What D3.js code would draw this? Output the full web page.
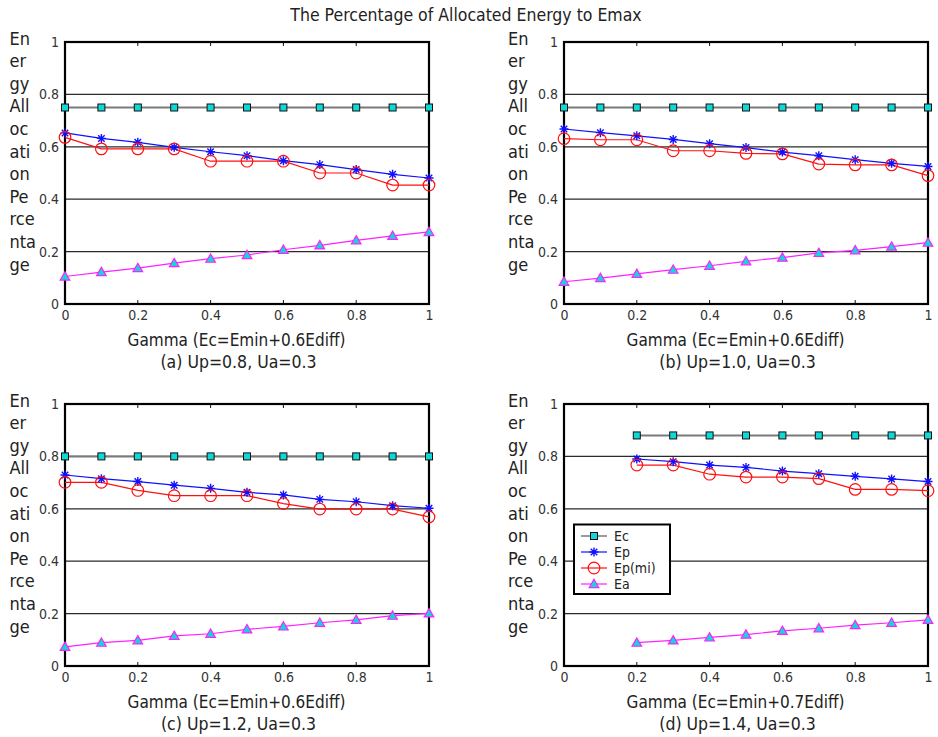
<!DOCTYPE html>
<html>
<head>
<meta charset="utf-8">
<script src="https://cdn.jsdelivr.net/npm/d3@7"></script>
<style>
  html, body { margin: 0; padding: 0; background: #fff; }
  svg { display: block; font-family: "DejaVu Sans Condensed", "DejaVu Sans", sans-serif; }
</style>
</head>
<body>
<svg id="chart" width="938" height="737"></svg>
<script>
// ---- data ----
const chartTitle = "The Percentage of Allocated Energy to Emax";
const gammaFull = [0, 0.1, 0.2, 0.3, 0.4, 0.5, 0.6, 0.7, 0.8, 0.9, 1.0];
const gammaFrom02 = [0.2, 0.3, 0.4, 0.5, 0.6, 0.7, 0.8, 0.9, 1.0];
const yTicks = [0, 0.2, 0.4, 0.6, 0.8, 1];
const xTicks = [0, 0.2, 0.4, 0.6, 0.8, 1];
const seriesNames = ["Ec", "Ep", "Ep(mi)", "Ea"];
const yLabelPieces = ["En", "er", "gy", "All", "oc", "ati", "on", "Pe", "rce", "nta", "ge"];
const xLabels = ["Gamma (Ec=Emin+0.6Ediff)", "Gamma (Ec=Emin+0.6Ediff)",
                 "Gamma (Ec=Emin+0.6Ediff)", "Gamma (Ec=Emin+0.7Ediff)"];
const captions = ["(a) Up=0.8, Ua=0.3", "(b) Up=1.0, Ua=0.3",
                  "(c) Up=1.2, Ua=0.3", "(d) Up=1.4, Ua=0.3"];

// (a) Up=0.8
const ecA   = [0.75, 0.75, 0.75, 0.75, 0.75, 0.75, 0.75, 0.75, 0.75, 0.75, 0.75];
const epA   = [0.653, 0.632, 0.617, 0.598, 0.581, 0.566, 0.547, 0.532, 0.513, 0.495, 0.481];
const epmiA = [0.636, 0.592, 0.592, 0.592, 0.545, 0.545, 0.545, 0.500, 0.500, 0.454, 0.454];
const eaA   = [0.105, 0.122, 0.137, 0.156, 0.173, 0.187, 0.207, 0.224, 0.243, 0.260, 0.275];
// (b) Up=1.0
const ecB   = [0.75, 0.75, 0.75, 0.75, 0.75, 0.75, 0.75, 0.75, 0.75, 0.75, 0.75];
const epB   = [0.668, 0.654, 0.642, 0.628, 0.612, 0.597, 0.580, 0.566, 0.551, 0.537, 0.525];
const epmiB = [0.631, 0.627, 0.627, 0.585, 0.585, 0.575, 0.573, 0.534, 0.531, 0.531, 0.490];
const eaB   = [0.085, 0.099, 0.115, 0.131, 0.146, 0.163, 0.177, 0.195, 0.205, 0.219, 0.234];
// (c) Up=1.2
const ecC   = [0.80, 0.80, 0.80, 0.80, 0.80, 0.80, 0.80, 0.80, 0.80, 0.80, 0.80];
const epC   = [0.729, 0.715, 0.704, 0.690, 0.678, 0.663, 0.653, 0.636, 0.627, 0.612, 0.602];
const epmiC = [0.701, 0.701, 0.670, 0.650, 0.650, 0.650, 0.620, 0.599, 0.599, 0.599, 0.569];
const eaC   = [0.073, 0.089, 0.098, 0.115, 0.123, 0.140, 0.151, 0.165, 0.176, 0.192, 0.201];
// (d) Up=1.4 (gamma from 0.2)
const ecD   = [0.88, 0.88, 0.88, 0.88, 0.88, 0.88, 0.88, 0.88, 0.88];
const epD   = [0.790, 0.780, 0.767, 0.758, 0.744, 0.734, 0.724, 0.714, 0.704];
const epmiD = [0.767, 0.767, 0.732, 0.721, 0.721, 0.715, 0.674, 0.674, 0.669];
const eaD   = [0.089, 0.098, 0.109, 0.120, 0.134, 0.144, 0.156, 0.165, 0.176];

// ---- panel layout ----
const panels = [
  { x: gammaFull,   series: [ecA, epA, epmiA, eaA], left: 65,  right: 429, top: 42,  bottom: 304, labelX: 9.5, legend: false },
  { x: gammaFull,   series: [ecB, epB, epmiB, eaB], left: 564, right: 928, top: 42,  bottom: 304, labelX: 508, legend: false },
  { x: gammaFull,   series: [ecC, epC, epmiC, eaC], left: 65,  right: 429, top: 404, bottom: 666, labelX: 9.5, legend: false },
  { x: gammaFrom02, series: [ecD, epD, epmiD, eaD], left: 564, right: 928, top: 404, bottom: 666, labelX: 508, legend: true }
];

const styles = [
  { line: "#7a7a7a", width: 2,   marker: "square" },
  { line: "#1010ff", width: 1.2, marker: "star" },
  { line: "#ff1010", width: 1.2, marker: "circle" },
  { line: "#ff20ff", width: 1.2, marker: "triangle" }
];
const CYAN = "#10d8d8";
const TEXT = "#222";

const svg = d3.select("#chart");

svg.append("text")
  .attr("x", 466).attr("y", 21)
  .attr("text-anchor", "middle")
  .attr("font-size", 17.5)
  .attr("fill", TEXT)
  .text(chartTitle);

function drawMarker(g, kind, cx, cy) {
  if (kind === "square") {
    g.append("rect").attr("x", cx - 3.5).attr("y", cy - 3.5)
      .attr("width", 7).attr("height", 7)
      .attr("fill", CYAN).attr("stroke", "#111").attr("stroke-width", 1);
  } else if (kind === "star") {
    const r = 4.5, d = r * 0.72;
    const p = d3.path();
    p.moveTo(cx - r, cy); p.lineTo(cx + r, cy);
    p.moveTo(cx, cy - r); p.lineTo(cx, cy + r);
    p.moveTo(cx - d, cy - d); p.lineTo(cx + d, cy + d);
    p.moveTo(cx - d, cy + d); p.lineTo(cx + d, cy - d);
    g.append("path").attr("d", p.toString())
      .attr("stroke", "#1010ff").attr("stroke-width", 1.4).attr("fill", "none");
  } else if (kind === "circle") {
    g.append("circle").attr("cx", cx).attr("cy", cy).attr("r", 5.8)
      .attr("fill", "none").attr("stroke", "#ff1010").attr("stroke-width", 1.2);
  } else if (kind === "triangle") {
    g.append("path")
      .attr("d", d3.symbol(d3.symbolTriangle, 40)())
      .attr("transform", `translate(${cx},${cy + 0.8})`)
      .attr("fill", CYAN).attr("stroke", "#ff20ff").attr("stroke-width", 1.2);
  }
}

panels.forEach((pn, i) => {
  const xScale = d3.scaleLinear().domain([0, 1]).range([pn.left, pn.right]);
  const yScale = d3.scaleLinear().domain([0, 1]).range([pn.bottom, pn.top]);
  const g = svg.append("g");

  // horizontal grid
  g.append("g").selectAll("line")
    .data(yTicks.filter(t => t > 0 && t < 1))
    .join("line")
    .attr("x1", pn.left).attr("x2", pn.right)
    .attr("y1", d => yScale(d)).attr("y2", d => yScale(d))
    .attr("stroke", "#2a2a2a").attr("stroke-width", 1.2);

  // y axis labels
  const yAxis = d3.axisLeft(yScale).tickValues(yTicks).tickFormat(d3.format("~g"))
    .tickSize(0).tickPadding(6);
  const ya = g.append("g").attr("transform", `translate(${pn.left},0)`).call(yAxis);
  ya.select(".domain").remove();
  ya.selectAll("text").attr("font-size", 14).attr("fill", "#333")
    .attr("font-family", "DejaVu Sans Condensed, DejaVu Sans, sans-serif");

  // x axis labels
  const xAxis = d3.axisBottom(xScale).tickValues(xTicks).tickFormat(d3.format("~g"))
    .tickSize(0).tickPadding(6);
  const xa = g.append("g").attr("transform", `translate(0,${pn.bottom})`).call(xAxis);
  xa.select(".domain").remove();
  xa.selectAll("text").attr("font-size", 14).attr("fill", "#333")
    .attr("font-family", "DejaVu Sans Condensed, DejaVu Sans, sans-serif");

  // small inward tick marks top and bottom
  xTicks.forEach(t => {
    g.append("line").attr("x1", xScale(t)).attr("x2", xScale(t))
      .attr("y1", pn.top).attr("y2", pn.top + 4).attr("stroke", "#111").attr("stroke-width", 1);
    g.append("line").attr("x1", xScale(t)).attr("x2", xScale(t))
      .attr("y1", pn.bottom).attr("y2", pn.bottom - 4).attr("stroke", "#111").attr("stroke-width", 1);
  });

  // frame
  g.append("rect")
    .attr("x", pn.left).attr("y", pn.top)
    .attr("width", pn.right - pn.left).attr("height", pn.bottom - pn.top)
    .attr("fill", "none").attr("stroke", "#000").attr("stroke-width", 2.2);

  // broken y label
  g.append("g").selectAll("text")
    .data(yLabelPieces)
    .join("text")
    .attr("x", pn.labelX)
    .attr("y", (d, k) => pn.top + 2.5 + k * 22.6)
    .attr("font-size", 18)
    .attr("fill", TEXT)
    .text(d => d);

  // x label & caption
  const cx = (pn.left + pn.right) / 2 - 10.5;
  g.append("text").attr("x", cx).attr("y", pn.bottom + 42)
    .attr("text-anchor", "middle").attr("font-size", 17).attr("fill", TEXT)
    .text(xLabels[i]);
  g.append("text").attr("x", cx + 2).attr("y", pn.bottom + 64)
    .attr("text-anchor", "middle").attr("font-size", 17.5).attr("fill", TEXT)
    .text(captions[i]);

  // series
  const line = d3.line().x(d => xScale(d[0])).y(d => yScale(d[1]));
  pn.series.forEach((vals, s) => {
    const pts = pn.x.map((gx, k) => [gx, vals[k]]);
    g.append("path").datum(pts).attr("d", line)
      .attr("fill", "none").attr("stroke", styles[s].line).attr("stroke-width", styles[s].width);
  });
  pn.series.forEach((vals, s) => {
    const mg = g.append("g");
    pn.x.forEach((gx, k) => drawMarker(mg, styles[s].marker, xScale(gx), yScale(vals[k])));
  });

  // legend
  if (pn.legend) {
    const lg = g.append("g");
    lg.append("rect").attr("x", 574).attr("y", 524.5).attr("width", 96).attr("height", 69.5)
      .attr("fill", "#fff").attr("stroke", "#000").attr("stroke-width", 2);
    seriesNames.forEach((name, s) => {
      const ly = 536 + s * 16;
      lg.append("line").attr("x1", 581).attr("x2", 607).attr("y1", ly).attr("y2", ly)
        .attr("stroke", styles[s].line).attr("stroke-width", styles[s].width === 2 ? 1.5 : 1.2);
      drawMarker(lg, styles[s].marker, 594, ly);
      lg.append("text").attr("x", 614).attr("y", ly + 5)
        .attr("font-size", 14).attr("fill", TEXT).text(name);
    });
  }
});
</script>
</body>
</html>
